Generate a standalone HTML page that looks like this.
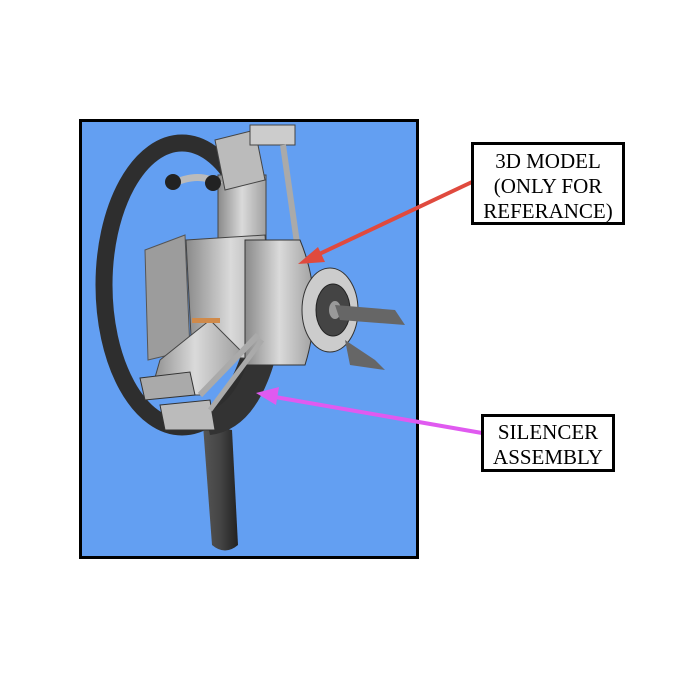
<!DOCTYPE html>
<html><head><meta charset="utf-8"><style>
html,body{margin:0;padding:0;background:#fff;}
body{width:700px;height:700px;position:relative;overflow:hidden;font-family:"Liberation Serif",serif;}
.box{position:absolute;background:#fff;border:3px solid #000;text-align:center;font-size:21px;line-height:25px;color:#000;box-sizing:border-box;}
</style></head><body>
<svg width="700" height="700" style="position:absolute;left:0;top:0">
<defs>
<linearGradient id="g1" x1="0" x2="1"><stop offset="0" stop-color="#8a8a8a"/><stop offset="0.5" stop-color="#dadada"/><stop offset="1" stop-color="#a0a0a0"/></linearGradient>
<linearGradient id="g2" x1="0" x2="1"><stop offset="0" stop-color="#555"/><stop offset="0.5" stop-color="#444"/><stop offset="1" stop-color="#222"/></linearGradient>
</defs>
<rect x="80.5" y="120.5" width="337" height="437" fill="#639ff2" stroke="#000" stroke-width="3"/>
<!-- ring -->
<ellipse cx="182" cy="285" rx="78" ry="142" fill="none" stroke="#2e2e2e" stroke-width="17"/>
<!-- tail pipe -->
<path d="M203 425 L212 545 Q225 556 238 545 L232 430 Z" fill="url(#g2)"/>
<path d="M210 435 Q255 430 275 360 L250 355 Q235 405 205 412 Z" fill="#333"/>
<!-- bracket -->
<path d="M145 250 L185 235 L190 350 L148 360 Z" fill="#9c9c9c" stroke="#555"/>
<!-- top cylinder -->
<rect x="218" y="175" width="48" height="75" fill="url(#g1)" stroke="#444"/>
<path d="M215 140 L255 130 L265 180 L225 190 Z" fill="#bbb" stroke="#444"/>
<rect x="250" y="125" width="45" height="20" fill="#ccc" stroke="#444"/>
<line x1="283" y1="145" x2="298" y2="250" stroke="#aaa" stroke-width="6"/>
<path d="M170 185 Q200 170 220 185" stroke="#bbb" stroke-width="7" fill="none"/>
<circle cx="173" cy="182" r="8" fill="#222"/><circle cx="213" cy="183" r="8" fill="#222"/>
<!-- main body -->
<path d="M186 240 L265 235 L275 360 L192 355 Z" fill="url(#g1)" stroke="#444"/>
<path d="M245 240 L300 240 Q325 300 305 365 L245 365 Z" fill="url(#g1)" stroke="#333"/>
<ellipse cx="330" cy="310" rx="28" ry="42" fill="#ccc" stroke="#333"/>
<ellipse cx="333" cy="310" rx="17" ry="26" fill="#444" stroke="#222"/>
<ellipse cx="335" cy="310" rx="6" ry="9" fill="#999"/>
<path d="M335 305 L395 310 L405 325 L340 320 Z" fill="#666"/>
<path d="M345 340 L375 360 L385 370 L350 365 Z" fill="#666"/>
<!-- lower cylinder -->
<path d="M160 360 L210 320 L240 350 L200 395 L150 395 Z" fill="url(#g1)" stroke="#444"/>
<path d="M140 378 L190 372 L195 395 L145 400 Z" fill="#aaa" stroke="#333"/>
<path d="M160 405 L210 400 L215 430 L165 430 Z" fill="#bbb" stroke="#333"/>
<line x1="200" y1="395" x2="258" y2="335" stroke="#aaa" stroke-width="6"/>
<line x1="210" y1="410" x2="262" y2="340" stroke="#aaa" stroke-width="5"/>
<rect x="192" y="318" width="28" height="5" fill="#d08a4a"/>
<!-- arrows -->
<line x1="472" y1="182" x2="315" y2="256" stroke="#e04a3e" stroke-width="4"/>
<polygon points="298,264 318,247 325,262" fill="#e04a3e"/>
<line x1="482" y1="433" x2="275" y2="397" stroke="#e05af0" stroke-width="4"/>
<polygon points="256,393 279,387 276,405" fill="#e05af0"/>
</svg>
<div class="box" style="left:471px;top:142px;width:154px;height:83px;padding-top:4px">3D MODEL<br>(ONLY FOR<br>REFERANCE)</div>
<div class="box" style="left:481px;top:414px;width:134px;height:58px;padding-top:3px">SILENCER<br>ASSEMBLY</div>
</body></html>
